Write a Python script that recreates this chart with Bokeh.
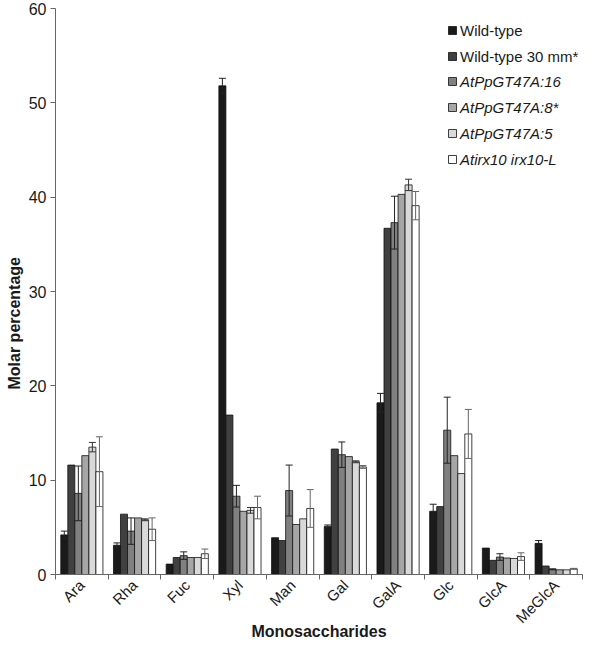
import math
from bokeh.plotting import figure
from bokeh.models import (ColumnDataSource, FixedTicker, Whisker, TeeHead, Legend,
                          LegendItem, Range1d, Title)
from bokeh.embed import file_html
from bokeh.resources import INLINE

sugars = ["Ara", "Rha", "Fuc", "Xyl", "Man", "Gal", "GalA", "Glc", "GlcA", "MeGlcA"]
series = ["Wild-type", "Wild-type 30 mm*", "AtPpGT47A:16", "AtPpGT47A:8*",
          "AtPpGT47A:5", "Atirx10 irx10-L"]

wt = [4.2, 3.1, 1.1, 51.8, 3.9, 5.1, 18.2, 6.7, 2.8, 3.3]
wt_err = [0.4, 0.25, 0, 0.8, 0, 0.15, 1.0, 0.75, 0, 0.3]
wt30 = [11.6, 6.4, 1.8, 16.9, 3.6, 13.3, 36.7, 7.2, 1.5, 0.9]
wt30_err = [0, 0, 0, 0, 0, 0, 0, 0, 0, 0]
gt16 = [8.6, 4.6, 2.0, 8.3, 8.9, 12.7, 37.3, 15.3, 1.85, 0.55]
gt16_err = [2.9, 1.4, 0.4, 1.15, 2.7, 1.35, 2.8, 3.5, 0.35, 0.05]
gt8 = [12.6, 6.0, 1.8, 6.7, 5.3, 12.5, 40.3, 12.6, 1.75, 0.5]
gt8_err = [0, 0, 0, 0, 0, 0, 0, 0, 0, 0]
gt5 = [13.5, 5.8, 1.8, 6.8, 5.9, 11.95, 41.3, 10.7, 1.7, 0.5]
gt5_err = [0.5, 0.1, 0, 0.3, 0, 0.1, 0.6, 0, 0, 0]
irx = [10.9, 4.8, 2.2, 7.1, 7.0, 11.4, 39.1, 14.9, 1.9, 0.6]
irx_err = [3.7, 1.2, 0.5, 1.2, 2.0, 0.15, 1.5, 2.6, 0.4, 0.05]

values = [wt, wt30, gt16, gt8, gt5, irx]
errors = [wt_err, wt30_err, gt16_err, gt8_err, gt5_err, irx_err]
colors = ["#1a1a1a", "#404040", "#808080", "#a6a6a6", "#d9d9d9", "#ffffff"]
err_colors = ["#222222", "#222222", "#222222", "#222222", "#333333", "#666666"]

FONT = "Liberation Sans"
TXT = "#1a1a1a"

p = figure(width=584, height=643, output_backend="svg", toolbar_location=None,
           x_range=Range1d(0, 10), y_range=Range1d(0, 60),
           min_border_left=30, min_border_right=2, min_border_top=8,
           min_border_bottom=60)
p.outline_line_color = None
p.xgrid.visible = False
p.ygrid.visible = False

n = len(series)
bw = 0.8 / n
renderers = []
for j in range(n):
    xs = [i + 0.5 + (j - (n - 1) / 2) * bw for i in range(len(sugars))]
    src = ColumnDataSource(dict(x=xs, top=values[j], cat=sugars))
    r = p.vbar(x="x", top="top", width=bw, source=src, fill_color=colors[j],
               line_color="#111111", line_width=0.8)
    renderers.append(r)
    ex = [x for x, e in zip(xs, errors[j]) if e > 0]
    if ex:
        ev = [v for v, e in zip(values[j], errors[j]) if e > 0]
        ee = [e for e in errors[j] if e > 0]
        esrc = ColumnDataSource(dict(x=ex, upper=[v + e for v, e in zip(ev, ee)],
                                     lower=[v - e for v, e in zip(ev, ee)]))
        w = Whisker(source=esrc, base="x", upper="upper", lower="lower",
                    line_color=err_colors[j], line_width=1, level="overlay",
                    upper_head=TeeHead(size=7, line_color=err_colors[j], line_width=1),
                    lower_head=TeeHead(size=7, line_color=err_colors[j], line_width=1))
        p.add_layout(w)

# x axis
xa = p.xaxis[0]
xa.ticker = FixedTicker(ticks=[i + 0.5 for i in range(len(sugars))],
                        minor_ticks=list(range(len(sugars) + 1)))
xa.major_label_overrides = {i + 0.5: s for i, s in enumerate(sugars)}
xa.major_label_orientation = math.pi / 4
xa.major_tick_line_color = None
xa.major_tick_out = 0
xa.major_tick_in = 0
xa.minor_tick_line_color = "#666666"
xa.minor_tick_out = 5
xa.minor_tick_in = 0
xa.axis_line_color = "#666666"
xa.major_label_text_font = FONT
xa.major_label_text_font_size = "15px"
xa.major_label_text_color = TXT
xa.major_label_standoff = 3
xa.axis_label = "Monosaccharides"
xa.axis_label_text_font = FONT
xa.axis_label_text_font_size = "16px"
xa.axis_label_text_font_style = "bold"
xa.axis_label_text_color = TXT
xa.axis_label_standoff = -12

# y axis
ya = p.yaxis[0]
ya.ticker = FixedTicker(ticks=[0, 10, 20, 30, 40, 50, 60])
ya.axis_line_color = "#666666"
ya.major_tick_line_color = "#666666"
ya.major_tick_out = 5
ya.major_tick_in = 0
ya.minor_tick_line_color = None
ya.major_label_text_font = FONT
ya.major_label_text_font_size = "16px"
ya.major_label_text_color = TXT
ya.major_label_standoff = 4

ytitle = Title(text="Molar percentage", align="left", offset=185, standoff=6,
               text_font=FONT, text_font_size="16px", text_font_style="bold",
               text_color=TXT)
p.add_layout(ytitle, "left")

def make_legend(idx, loc, style):
    lg = Legend(items=[LegendItem(label=series[k], renderers=[renderers[k]]) for k in idx],
                location=loc, orientation="vertical")
    lg.label_text_font = FONT
    lg.label_text_font_size = "15px"
    lg.label_text_font_style = style
    lg.label_text_color = TXT
    lg.glyph_width = 10
    lg.glyph_height = 10
    lg.label_height = 20
    lg.label_standoff = 3
    lg.spacing = 6
    lg.padding = 0
    lg.margin = 0
    lg.border_line_color = None
    lg.background_fill_alpha = 0
    return lg

p.add_layout(make_legend([0, 1], (392, 508), "normal"))
p.add_layout(make_legend([2, 3, 4, 5], (392, 405), "italic"))

open("out.html", "w").write(file_html(p, INLINE))
